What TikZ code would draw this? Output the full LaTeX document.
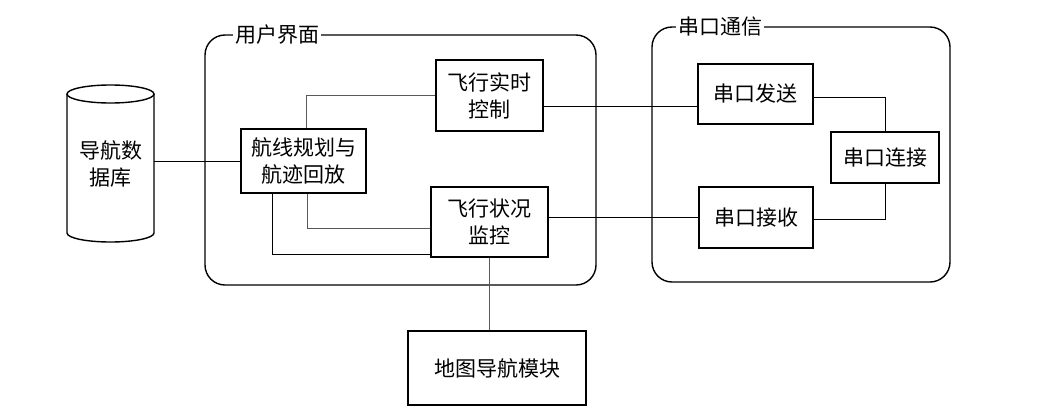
\documentclass[tikz,border=0pt]{standalone}
\usepackage{fontspec}
\setmainfont{Noto Sans CJK SC}
\usetikzlibrary{calc}
\begin{document}
\begin{tikzpicture}[x=1pt,y=-1pt,
  every node/.style={font=\fontsize{21pt}{27pt}\selectfont},
  blk/.style={draw,line width=1.4pt,rectangle,align=center,inner sep=0pt},
  grp/.style={draw,line width=1.4pt,rounded corners=20pt},
  grptitle/.style={fill=white,inner sep=2pt},
  wire/.style={line width=1pt},
  thinwire/.style={line width=0.8pt,black!65}]
\useasboundingbox (0,0) rectangle (1058,413);
% containers
\draw[grp] (205,35) rectangle (596,285);
\node[grptitle] (uit) at (277,35) {用户界面};
\draw[grp] (652,27) rectangle (950,282);
\node[grptitle] (sert) at (720,27) {串口通信};
% database cylinder
\node[align=center,minimum width=87pt,minimum height=157pt,inner sep=0pt] (db) at (110.5,163.5) {导航数\\据库};
\draw[line width=1.4pt] (110.5,94) ellipse [x radius=43.5pt, y radius=9pt];
\draw[line width=1.4pt] (67,94) -- (67,233) arc[start angle=180,end angle=360,x radius=43.5pt,y radius=9pt] -- (154,94);
% blocks
\node[blk,minimum width=125pt,minimum height=64pt] (plan) at (303.5,161) {航线规划与\\航迹回放};
\node[blk,minimum width=107pt,minimum height=71pt] (rt) at (489.5,95.5) {飞行实时\\控制};
\node[blk,minimum width=117pt,minimum height=70pt] (mon) at (489.5,222) {飞行状况\\监控};
\node[blk,minimum width=115pt,minimum height=60pt] (send) at (755.5,94) {串口发送};
\node[blk,minimum width=108pt,minimum height=51pt] (conn) at (885,157.5) {串口连接};
\node[blk,minimum width=114pt,minimum height=61pt] (recv) at (756,217.5) {串口接收};
\node[blk,minimum width=178pt,minimum height=74pt] (map) at (497,368) {地图导航模块};
% connectors
\draw[wire] (plan.west) -- (plan.west -| db.east);
\draw[thinwire] ([xshift=2.5pt]plan.north) |- (rt.west);
\draw[thinwire] ([xshift=3.5pt]plan.south) |- ([yshift=-6pt]mon.west);
\draw[wire] ([xshift=-31.5pt]plan.south) |- ([yshift=-32pt]mon.west);
\draw[wire] ([yshift=-10.5pt]rt.east) -- ([yshift=-10.5pt]rt.east -| send.west);
\draw[wire] ([yshift=5pt]mon.east) -- ([yshift=5pt]mon.east -| recv.west);
\draw[thinwire] (mon.south) -- (map.north -| mon.south);
\draw[wire] ([yshift=-3pt]send.east) -| (conn.north);
\draw[wire] (conn.south) |- ([yshift=-1.5pt]recv.east);
\end{tikzpicture}
\end{document}
